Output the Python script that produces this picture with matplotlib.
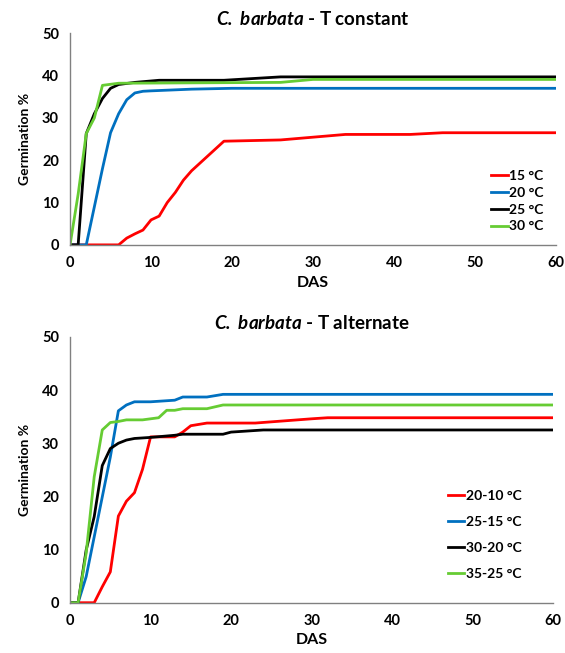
import matplotlib.pyplot as plt

plt.rcParams['font.family'] = ['Lato', 'DejaVu Sans']
plt.rcParams['mathtext.fontset'] = 'custom'
plt.rcParams['mathtext.bfit'] = 'Lato:italic:bold'
plt.rcParams['mathtext.it'] = 'Lato:italic'
plt.rcParams['mathtext.bf'] = 'Lato:bold'
plt.rcParams['mathtext.rm'] = 'Lato'

# --- T constant ---
days_15 = [0, 6, 7, 8, 9, 10, 11, 12, 13, 14, 15, 19, 26, 34, 42, 46, 60]
germ_15 = [0, 0, 1.6, 2.6, 3.5, 5.9, 6.8, 10, 12.4, 15.3, 17.5, 24.5, 24.8, 26.1, 26.1, 26.5, 26.5]
days_20 = [0, 2, 3, 4, 5, 6, 7, 8, 9, 10, 15, 20, 60]
germ_20 = [0, 0, 9, 18, 26.5, 31, 34.3, 35.9, 36.3, 36.4, 36.8, 37.0, 37.0]
days_25 = [0, 1, 2, 3, 4, 5, 6, 8, 11, 19, 26, 60]
germ_25 = [0, 0, 26.3, 31, 34.6, 37, 37.9, 38.4, 38.9, 38.9, 39.7, 39.7]
days_30 = [0, 1, 2, 3, 4, 6, 26, 30, 60]
germ_30 = [0, 12, 26.3, 30, 37.7, 38.2, 38.4, 39.1, 39.1]

# --- T alternate ---
days_2010 = [0, 3, 4, 5, 6, 7, 8, 9, 10, 13, 14, 15, 17, 23, 30, 32, 60]
germ_2010 = [0, 0, 3.0, 5.8, 16.3, 19.1, 20.7, 25.1, 31.2, 31.2, 32.1, 33.3, 33.8, 33.8, 34.6, 34.8, 34.8]
days_2515 = [0, 1, 2, 3, 4, 5, 6, 7, 8, 10, 13, 14, 17, 19, 60]
germ_2515 = [0, 0, 4.9, 12.4, 19.9, 27.4, 36.1, 37.2, 37.8, 37.8, 38.1, 38.7, 38.7, 39.2, 39.2]
days_3020 = [0, 1, 2, 3, 4, 5, 6, 7, 8, 10, 13, 14, 19, 20, 24, 60]
germ_3020 = [0, 0, 9.9, 16.2, 25.8, 29, 30, 30.6, 30.9, 31.1, 31.5, 31.7, 31.7, 32.1, 32.5, 32.5]
days_3525 = [0, 1, 2, 3, 4, 5, 6, 7, 9, 10, 11, 12, 13, 14, 17, 19, 60]
germ_3525 = [0, 0, 9.3, 23.7, 32.5, 33.9, 34.1, 34.4, 34.4, 34.6, 34.8, 36.2, 36.2, 36.5, 36.5, 37.2, 37.2]

red, blue, black, green = '#ff0000', '#0070c0', '#000000', '#66cc33'

fig = plt.figure(figsize=(5.65, 6.53), dpi=100)
ax1 = fig.add_axes([0.124, 0.625, 0.86, 0.324])
ax2 = fig.add_axes([0.124, 0.077, 0.855, 0.407])

lw = 2.0
ax1.plot(days_15, germ_15, color=red, lw=lw, label='15 °C')
ax1.plot(days_20, germ_20, color=blue, lw=lw, label='20 °C')
ax1.plot(days_25, germ_25, color=black, lw=lw, label='25 °C')
ax1.plot(days_30, germ_30, color=green, lw=lw, label='30 °C')

ax2.plot(days_2010, germ_2010, color=red, lw=lw, label='20-10 °C')
ax2.plot(days_2515, germ_2515, color=blue, lw=lw, label='25-15 °C')
ax2.plot(days_3020, germ_3020, color=black, lw=lw, label='30-20 °C')
ax2.plot(days_3525, germ_3525, color=green, lw=lw, label='35-25 °C')

titles = ['T constant', 'T alternate']
for ax, t in zip([ax1, ax2], titles):
    ax.set_xlim(0, 60)
    ax.set_ylim(0, 50)
    ax.set_xticks(range(0, 61, 10))
    ax.set_yticks(range(0, 51, 10))
    for s in ['top', 'right']:
        ax.spines[s].set_visible(False)
    for s in ['left', 'bottom']:
        ax.spines[s].set_color('#808080')
        ax.spines[s].set_linewidth(1.0)
    ax.tick_params(length=0, labelsize=10.5, pad=8)
    for lab in ax.get_xticklabels() + ax.get_yticklabels():
        lab.set_fontweight('bold')
    ax.set_xlabel('DAS', fontsize=11.5, fontweight='bold', labelpad=4)
    ax.set_ylabel('Germination %', fontsize=10, fontweight='bold', labelpad=8)
    ax.set_title(r'$\mathbfit{C.\ barbata}$' + ' - ' + t,
                 fontsize=13.5, fontweight='bold', pad=6)

ax1.legend(loc='lower right', bbox_to_anchor=(1.0, 0.0), frameon=False,
           handlelength=1.2, handletextpad=0.1, labelspacing=0.35,
           prop={'weight': 'bold', 'size': 10})
ax2.legend(loc='lower right', bbox_to_anchor=(0.96, 0.04), frameon=False,
           handlelength=1.2, handletextpad=0.1, labelspacing=1.0,
           prop={'weight': 'bold', 'size': 10})

fig.savefig('out.png', dpi=100)
